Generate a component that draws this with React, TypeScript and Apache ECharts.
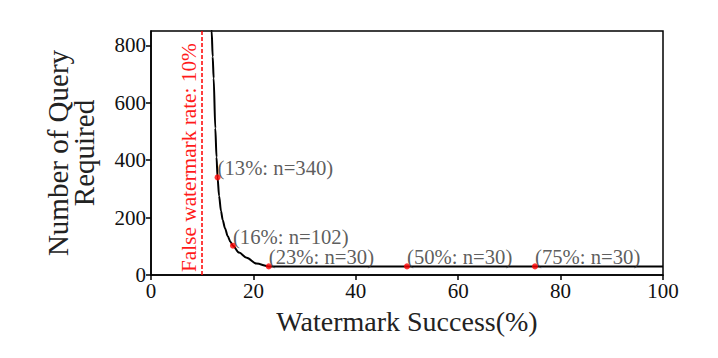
import React, { useEffect, useRef } from "react";
import * as echarts from "echarts";

const curveX = [11.78, 11.85, 12.05, 12.24, 12.56, 12.8, 13, 13.3, 13.67, 14, 14.45, 15, 15.5, 16, 17.2, 18.7, 20.6, 23, 100];
const curveY = [900, 850, 760, 685, 511, 410, 340, 275, 223, 192, 163, 135, 116, 102, 78, 60, 40, 30, 30];
const markX = [13, 16, 23, 50, 75];
const markY = [340, 102, 30, 30, 30];
const markLabels = ["(13%: n=340)", "(16%: n=102)", "(23%: n=30)", "(50%: n=30)", "(75%: n=30)"];
const xTicks = [0, 20, 40, 60, 80, 100];
const yTicks = [0, 200, 400, 600, 800];
const falseRate = 10;
const falseLabel = "False watermark rate: 10%";

const FONT = "'Liberation Serif', 'Times New Roman', serif";

export default function App() {
  const ref = useRef<HTMLDivElement>(null);
  useEffect(() => {
    const chart = echarts.init(ref.current!, null, { renderer: "svg" });
    chart.setOption({
      animation: false,
      grid: { left: 151, right: 55, top: 31, bottom: 83, show: true, borderColor: "#000", borderWidth: 1.5, backgroundColor: "transparent" },
      xAxis: {
        type: "value",
        min: 0,
        max: 100,
        interval: 20,
        name: "Watermark Success(%)",
        nameLocation: "middle",
        nameGap: 32,
        nameTextStyle: { fontFamily: FONT, fontSize: 28, color: "#222" },
        axisLine: { show: true, lineStyle: { color: "#000", width: 1.5 } },
        axisTick: { show: true, length: 5, lineStyle: { color: "#000", width: 1.5 }, customValues: xTicks },
        axisLabel: { fontFamily: FONT, fontSize: 21, color: "#111", margin: 5, customValues: xTicks },
        splitLine: { show: false },
      },
      yAxis: {
        type: "value",
        min: 0,
        max: 850,
        name: "Number of Query\nRequired",
        nameLocation: "middle",
        nameGap: 54,
        nameTextStyle: { fontFamily: FONT, fontSize: 29, color: "#222", lineHeight: 26 },
        axisLine: { show: true, lineStyle: { color: "#000", width: 1.5 } },
        axisTick: { show: true, length: 5, lineStyle: { color: "#000", width: 1.5 }, customValues: yTicks },
        axisLabel: { fontFamily: FONT, fontSize: 21, color: "#111", margin: 5, customValues: yTicks },
        splitLine: { show: false },
      },
      series: [
        {
          type: "line",
          data: curveX.map((x, i) => [x, curveY[i]]),
          smooth: 0.3,
          smoothMonotone: "x",
          showSymbol: false,
          clip: true,
          lineStyle: { color: "#000", width: 2 },
          markLine: {
            silent: true,
            symbol: "none",
            lineStyle: { color: "#ff0000", type: [4, 2], width: 1.5 },
            label: {
              show: true,
              formatter: falseLabel,
              position: "insideStartTop",
              distance: [3, 3],
              color: "#ff1a1a",
              fontFamily: FONT,
              fontSize: 21.3,
            },
            data: [{ xAxis: falseRate }],
          },
          z: 2,
        },
        {
          type: "scatter",
          data: markX.map((x, i) => [x, markY[i]]),
          symbolSize: 6,
          itemStyle: { color: "#ff0000" },
          label: {
            show: true,
            formatter: (p: any) => markLabels[p.dataIndex],
            position: "right",
            distance: -3,
            offset: [0, -9],
            fontFamily: FONT,
            fontSize: 20.7,
            color: "#333",
          },
          z: 3,
        },
      ],
    });
    return () => chart.dispose();
  }, []);
  return <div ref={ref} style={{ width: 718, height: 358, margin: -8 }} />;
}
